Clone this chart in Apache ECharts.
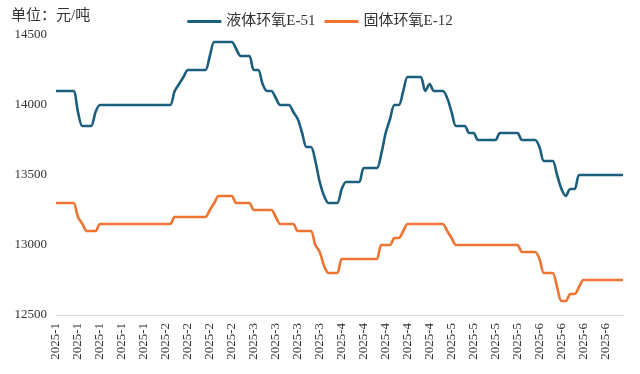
<!DOCTYPE html>
<html>
<head>
<meta charset="utf-8">
<script src="https://cdn.jsdelivr.net/npm/echarts@6/dist/echarts.min.js"></script>
<style>
html,body{margin:0;padding:0;background:#fff;}
#c{width:640px;height:374px;}
</style>
</head>
<body>
<div id="c"></div>
<script>
var unitLabel = '单位：元/吨';
var seriesNames = ['液体环氧E-51', '固体环氧E-12'];
var yTicks = [12500, 13000, 13500, 14000, 14500];

var categories = [
'2025-1','2025-1','2025-1','2025-1','2025-1','2025-1','2025-1','2025-1','2025-1','2025-1',
'2025-1','2025-1','2025-1','2025-1','2025-1','2025-1','2025-1','2025-1','2025-1','2025-1',
'2025-1','2025-1','2025-1','2025-1','2025-1','2025-2','2025-2','2025-2','2025-2','2025-2',
'2025-2','2025-2','2025-2','2025-2','2025-2','2025-2','2025-2','2025-2','2025-2','2025-2',
'2025-2','2025-2','2025-2','2025-2','2025-2','2025-3','2025-3','2025-3','2025-3','2025-3',
'2025-3','2025-3','2025-3','2025-3','2025-3','2025-3','2025-3','2025-3','2025-3','2025-3',
'2025-3','2025-3','2025-3','2025-3','2025-3','2025-4','2025-4','2025-4','2025-4','2025-4',
'2025-4','2025-4','2025-4','2025-4','2025-4','2025-4','2025-4','2025-4','2025-4','2025-4',
'2025-4','2025-4','2025-4','2025-4','2025-4','2025-4','2025-4','2025-4','2025-4','2025-4',
'2025-5','2025-5','2025-5','2025-5','2025-5','2025-5','2025-5','2025-5','2025-5','2025-5',
'2025-5','2025-5','2025-5','2025-5','2025-5','2025-5','2025-5','2025-5','2025-5','2025-5',
'2025-6','2025-6','2025-6','2025-6','2025-6','2025-6','2025-6','2025-6','2025-6','2025-6',
'2025-6','2025-6','2025-6','2025-6','2025-6','2025-6','2025-6','2025-6','2025-6','2025-6'
];

var e51 = [
14100,14100,14100,14100,14100,13950,13850,13850,13850,13950,
14000,14000,14000,14000,14000,14000,14000,14000,14000,14000,
14000,14000,14000,14000,14000,14000,14000,14100,14150,14200,
14250,14250,14250,14250,14250,14350,14450,14450,14450,14450,
14450,14400,14350,14350,14350,14250,14250,14150,14100,14100,
14050,14000,14000,14000,13950,13900,13800,13700,13700,13600,
13450,13350,13300,13300,13300,13400,13450,13450,13450,13450,
13550,13550,13550,13550,13650,13800,13900,14000,14000,14100,
14200,14200,14200,14200,14100,14150,14100,14100,14100,14050,
13950,13850,13850,13850,13800,13800,13750,13750,13750,13750,
13750,13800,13800,13800,13800,13800,13750,13750,13750,13750,
13700,13600,13600,13600,13500,13400,13350,13400,13400,13500,
13500,13500,13500,13500,13500,13500,13500,13500,13500,13500
];

var e12 = [
13300,13300,13300,13300,13300,13200,13150,13100,13100,13100,
13150,13150,13150,13150,13150,13150,13150,13150,13150,13150,
13150,13150,13150,13150,13150,13150,13150,13200,13200,13200,
13200,13200,13200,13200,13200,13250,13300,13350,13350,13350,
13350,13300,13300,13300,13300,13250,13250,13250,13250,13250,
13200,13150,13150,13150,13150,13100,13100,13100,13100,13000,
12950,12850,12800,12800,12800,12900,12900,12900,12900,12900,
12900,12900,12900,12900,13000,13000,13000,13050,13050,13100,
13150,13150,13150,13150,13150,13150,13150,13150,13150,13100,
13050,13000,13000,13000,13000,13000,13000,13000,13000,13000,
13000,13000,13000,13000,13000,13000,12950,12950,12950,12950,
12900,12800,12800,12800,12700,12600,12600,12650,12650,12700,
12750,12750,12750,12750,12750,12750,12750,12750,12750,12750
];

var serifFont = "'Liberation Serif', 'Times New Roman', 'Noto Sans CJK SC', serif";
var chart = echarts.init(document.getElementById('c'), null, {renderer: 'canvas'});
chart.setOption({
  animation: false,
  backgroundColor: '#ffffff',
  color: ['#1b5e7d', '#ed7432'],
  title: {
    text: unitLabel,
    left: 6, top: 4,
    textStyle: {fontFamily: serifFont, fontSize: 15, fontWeight: 'normal', color: '#333333'}
  },
  legend: {
    top: 9, left: 'center',
    icon: 'rect', itemWidth: 34, itemHeight: 3, itemGap: 9,
    textStyle: {fontFamily: serifFont, fontSize: 15, color: '#333333'},
    data: seriesNames
  },
  grid: {left: 56, right: 17, top: 35, bottom: 59, containLabel: false},
  xAxis: {
    type: 'category',
    data: categories,
    boundaryGap: false,
    axisLine: {show: true, lineStyle: {color: '#d9d9d9', width: 1}},
    axisTick: {show: false},
    axisLabel: {
      interval: 4, rotate: 90, margin: 8,
      fontFamily: serifFont, fontSize: 13, color: '#333333'
    },
    splitLine: {show: false}
  },
  yAxis: {
    type: 'value',
    min: yTicks[0], max: yTicks[yTicks.length - 1], interval: 500,
    axisLine: {show: false},
    axisTick: {show: false},
    splitLine: {show: false},
    axisLabel: {
      fontFamily: serifFont, fontSize: 13, color: '#333333', margin: 9,
      formatter: function (v) { return String(v); }
    }
  },
  series: [
    {name: seriesNames[0], type: 'line', data: e51, showSymbol: false, smooth: 0.3,
     lineStyle: {width: 2.6}},
    {name: seriesNames[1], type: 'line', data: e12, showSymbol: false, smooth: 0.3,
     lineStyle: {width: 2.6}}
  ]
});
</script>
</body>
</html>
